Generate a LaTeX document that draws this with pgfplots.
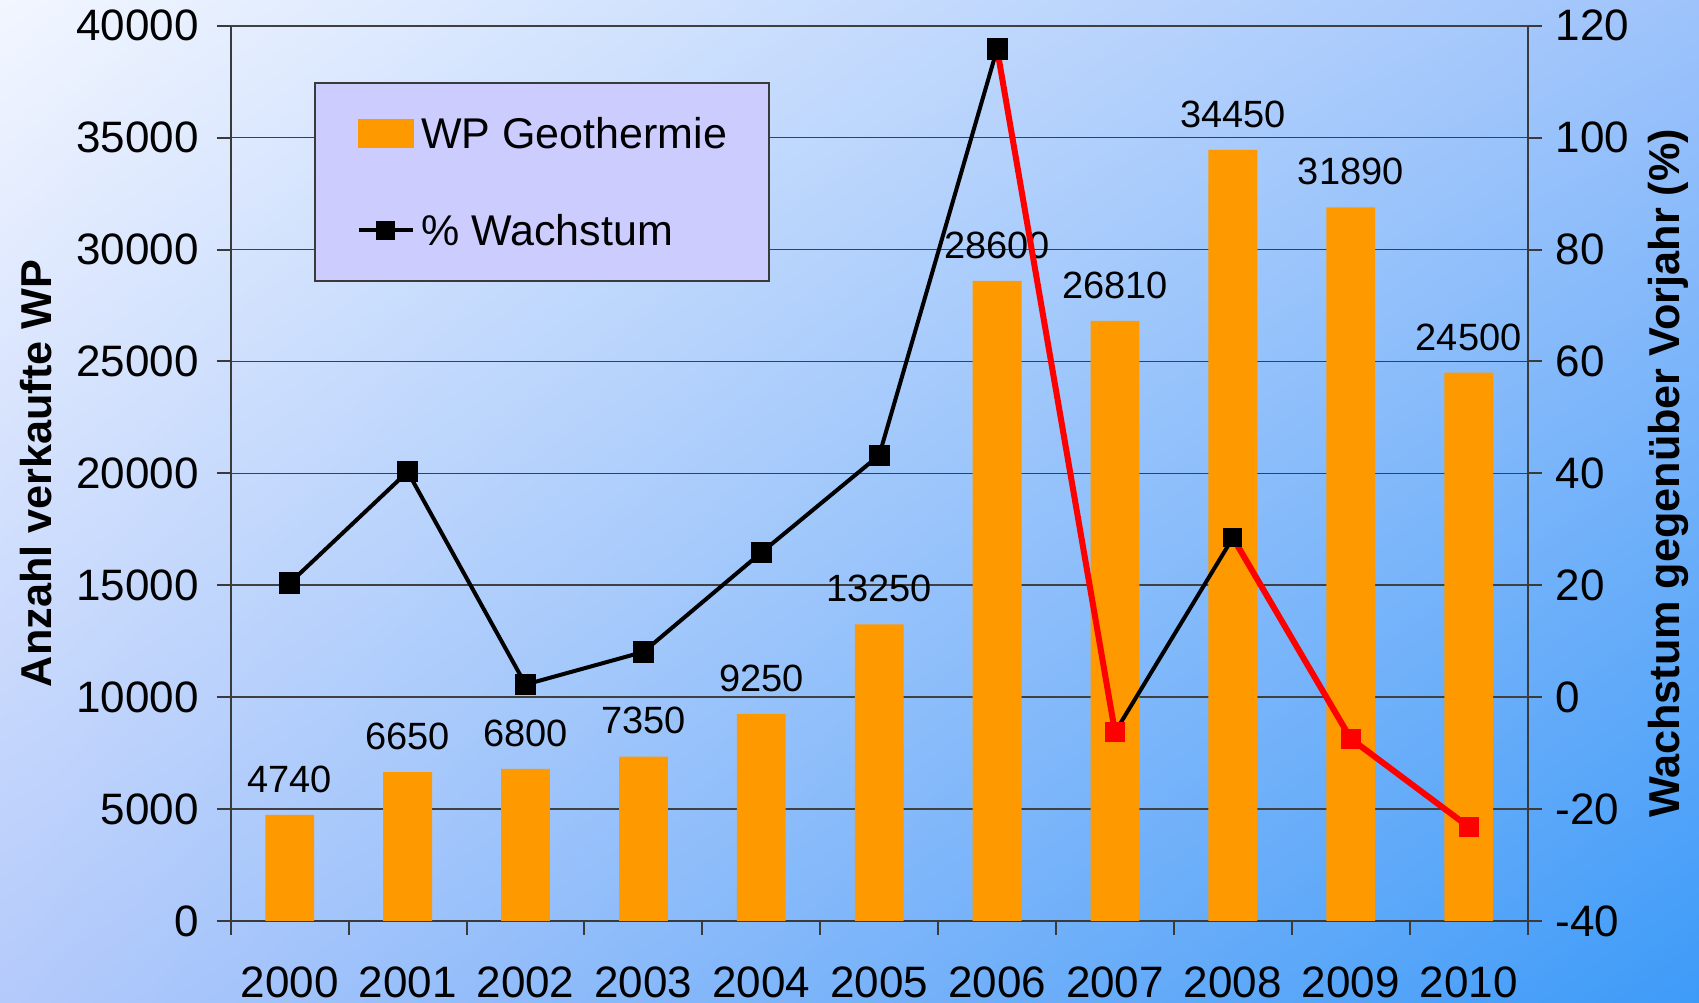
\documentclass[border=0pt]{standalone}
\usepackage{fontspec}
\setmainfont{Liberation Sans}
\usepackage{pgfplots}
\usepackage{pgfplotstable}
\pgfplotsset{compat=1.18}
\usetikzlibrary{shadings}
\definecolor{wporange}{HTML}{FF9900}
\definecolor{wpred}{HTML}{FF0000}
\definecolor{wplegend}{HTML}{CCCCFF}
\definecolor{bgul}{HTML}{F2F6FF}
\definecolor{bgur}{HTML}{9EC3FB}
\definecolor{bgll}{HTML}{B4CAFB}
\definecolor{bglr}{HTML}{3D9BF8}
\definecolor{axisgray}{HTML}{3A3A3A}

% Absatz Erdwaerme-Waermepumpen
\pgfplotstableread{
x units
0 4740
1 6650
2 6800
3 7350
4 9250
5 13250
6 28600
7 26810
8 34450
9 31890
10 24500
}\wpunits

\pgfplotsset{
    wp frame/.style={
        scale only axis,
        width=324.2pt,
        height=223.8pt,
        at={(57.7pt,20.5pt)},
        anchor=south west,
        xmin=-0.5, xmax=10.5,
        /pgf/number format/assume math mode=true,
        /pgf/number format/1000 sep={},
        scaled y ticks=false,
        tick label style={font=\fontsize{11}{13}\selectfont},
        label style={font=\fontsize{10.8}{13}\selectfont\bfseries},
        axis line style={draw=axisgray,line width=0.5pt},
        tick style={draw=axisgray,line width=0.5pt},
        tick align=outside,
        major tick length=3.5pt,
        minor tick length=3.5pt,
        clip=false,
    },
}

\begin{document}
\begin{tikzpicture}
\shade[upper left=bgul,upper right=bgur,lower left=bgll,lower right=bglr]
    (0,0) rectangle (424.75pt,250.75pt);
\path[use as bounding box] (0,0) rectangle (424.75pt,250.75pt);

\begin{axis}[
    wp frame,
    axis x line*=bottom,
    axis y line*=left,
    ymin=0, ymax=40000,
    ytick={0,5000,...,40000},
    ymajorgrids=true,
    grid style={draw=black!75,line width=0.4pt},
    xtick={0,1,...,10},
    xticklabels={2000,2001,2002,2003,2004,2005,2006,2007,2008,2009,2010},
    major x tick style={draw=none},
    minor xtick={-0.5,0.5,...,10.5},
    xticklabel style={yshift=-4.5pt},
    yticklabel style={xshift=-1pt},
    ylabel={Anzahl verkaufte WP},
    ylabel style={at={(axis description cs:-0.150,0.5)},anchor=center,rotate=0},
    ybar,
    bar width=12.2pt,
    nodes near coords,
    every node near coord/.append style={font=\fontsize{9.5}{11}\selectfont,text=black,yshift=2pt},
]
\addplot[fill=wporange,draw=none] table[x=x,y=units] {\wpunits};
\end{axis}

\begin{axis}[
    wp frame,
    axis x line=none,
    axis y line*=right,
    ymin=-40, ymax=120,
    ytick={-40,-20,...,120},
    ylabel={Wachstum gegenüber Vorjahr (\%)},
    ylabel style={at={(axis description cs:1.1089,0.5)},anchor=center,rotate=0},
    legend cell align=left,
    legend style={
        at={(0.064,0.9375)},
        anchor=north west,
        fill=wplegend,
        draw=axisgray,
        line width=0.5pt,
        inner xsep=10.5pt,
        inner ysep=8.8pt,
        row sep=16.55pt,
        column sep=1.6pt,
        font=\fontsize{10.75}{13}\selectfont,
        nodes={inner sep=0pt,text height=7.7pt,text depth=0pt},
    },
]
\addlegendimage{legend image code/.code={\fill[wporange] (0pt,-3.4pt) rectangle (13.5pt,3.4pt);}}
\addlegendentry{WP Geothermie}
\addlegendimage{legend image code/.code={
    \draw[black,line width=1pt] (0pt,0pt) -- (13.5pt,0pt);
    \fill[black] (4.6pt,-2.15pt) rectangle (8.9pt,2.15pt);}}
\addlegendentry{\% Wachstum}

% Rueckgang in Rot
\addplot[wpred,line width=1.5pt,forget plot] coordinates {(6,115.85) (7,-6.26)};
\addplot[wpred,line width=1.5pt,forget plot] coordinates {(8,28.50) (9,-7.43) (10,-23.17)};
\addplot[black,line width=1pt,forget plot] coordinates {(7,-6.26) (8,28.50)};
\addplot[black,line width=1pt,mark=square*,mark size=2.15pt,forget plot] coordinates {
    (0,20.4) (1,40.30) (2,2.26) (3,8.09) (4,25.85) (5,43.24) (6,115.85)};
\addplot[only marks,mark=square*,mark size=2.3pt,color=wpred,forget plot] coordinates {
    (7,-6.26) (9,-7.43) (10,-23.17)};
\addplot[only marks,mark=square*,mark size=2.15pt,color=black,forget plot] coordinates {(8,28.50)};
\end{axis}
\end{tikzpicture}
\end{document}
